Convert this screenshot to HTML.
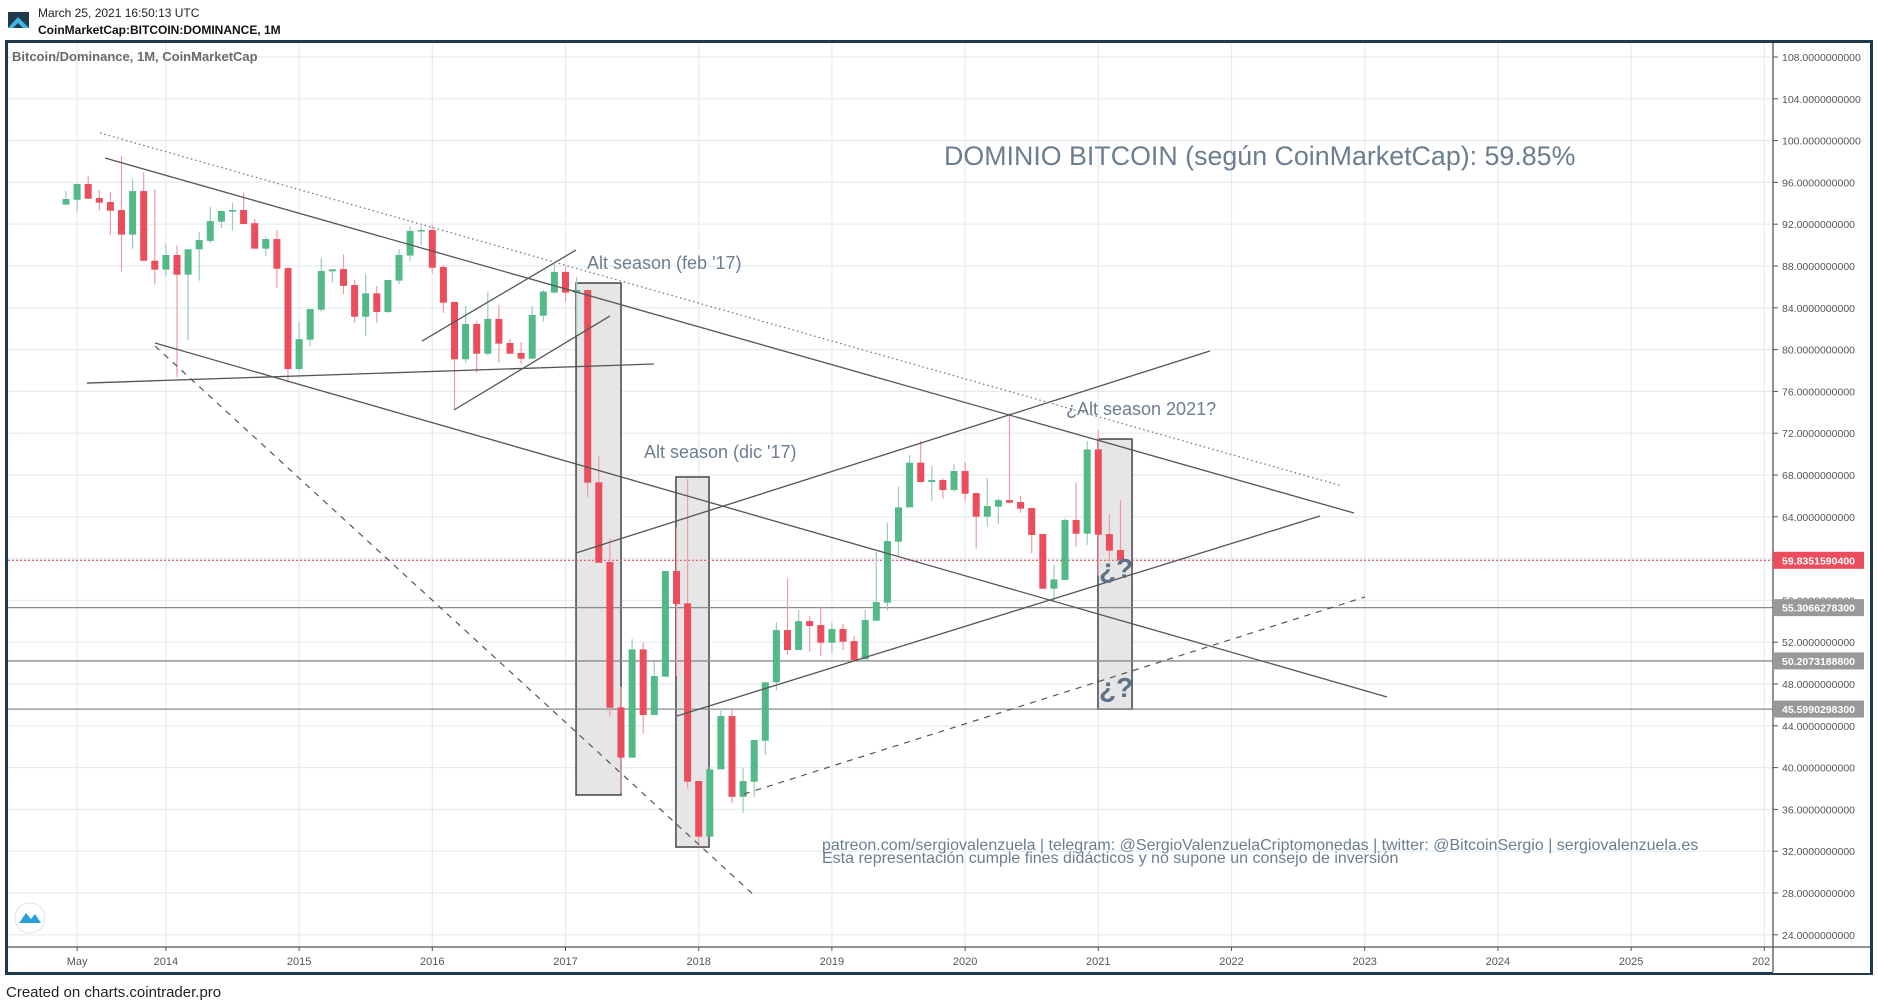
<!DOCTYPE html>
<html><head><meta charset="utf-8"><title>Bitcoin Dominance</title>
<style>
html,body{margin:0;padding:0;background:#fff;width:1878px;height:1006px;overflow:hidden;font-family:"Liberation Sans",sans-serif;}
</style></head>
<body>
<svg id="chart" width="1878" height="1006" viewBox="0 0 1878 1006" xmlns="http://www.w3.org/2000/svg" font-family="Liberation Sans, sans-serif">
  <g>
    <g>
      <rect x="8" y="12" width="21" height="16" fill="#1f3b4d"/>
      <polygon points="8,28 18,17 29,28 23,28 18,23 13,28" fill="#3fb4e5"/>
    </g>
    <text x="38" y="17" font-size="12" fill="#222">March 25, 2021 16:50:13 UTC</text>
    <text x="38" y="34" font-size="12" font-weight="bold" fill="#111">CoinMarketCap:BITCOIN:DOMINANCE, 1M</text>
  </g>
  <rect x="6.5" y="41.5" width="1865" height="932" fill="#fff" stroke="#1f3a4c" stroke-width="3"/>
  <g id="grid"></g>
  <g id="drawings-back"></g>
  <g id="candles"></g>
  <g id="drawings"></g>
  <g id="axes"></g>
  <text x="12" y="61" font-size="13" font-weight="bold" fill="#6a6a6a">Bitcoin/Dominance, 1M, CoinMarketCap</text>
  <text x="944" y="165" font-size="26.8" fill="#6b7e91">DOMINIO BITCOIN (según CoinMarketCap): 59.85%</text>
  <text x="587" y="269" font-size="18" fill="#6b7e91">Alt season (feb '17)</text>
  <text x="644" y="458" font-size="18" fill="#6b7e91">Alt season (dic '17)</text>
  <text x="1066" y="415" font-size="18" fill="#6b7e91">¿Alt season 2021?</text>
  <text x="1099" y="578" font-size="28" font-weight="bold" fill="#5f7285">¿?</text>
  <text x="1099" y="697" font-size="28" font-weight="bold" fill="#5f7285">¿?</text>
  <text x="822" y="850" font-size="16" fill="#6b7e91">patreon.com/sergiovalenzuela | telegram: @SergioValenzuelaCriptomonedas | twitter: @BitcoinSergio | sergiovalenzuela.es</text>
  <text x="822" y="863" font-size="16" fill="#6b7e91">Esta representación cumple fines didácticos y no supone un consejo de inversión</text>
  <g>
    <circle cx="30" cy="918" r="15" fill="#fff" stroke="#e0e3eb"/>
    <path d="M19 923 L26 913 L31 919 L35 914 L41 923 Z" fill="#2a9fd8"/>
  </g>
  <text x="6" y="997" font-size="15" fill="#222">Created on charts.cointrader.pro</text>
</svg>
<script>
// ---- data (monthly candles from Apr 2013) ----
const opens  = [93.87,94.34,95.84,94.5,94.12,93.35,91.0,95.17,88.5,87.65,89.05,87.17,89.6,90.4,92.24,93.2,93.36,92.1,89.66,90.58,87.8,78.14,80.95,83.82,87.49,87.71,86.18,83.15,85.38,83.6,86.6,89.0,91.35,91.44,87.9,84.56,79.07,82.45,79.61,82.93,80.63,79.68,79.13,83.25,85.45,87.43,85.45,85.7,67.3,59.67,45.76,40.95,51.31,45.03,48.7,58.81,55.72,38.72,33.39,39.83,44.93,37.21,38.65,42.57,48.16,53.16,51.25,54.02,53.64,51.95,53.26,52.1,50.36,54.06,55.78,61.62,64.9,69.18,67.33,67.52,66.56,68.38,66.27,64.01,64.97,65.6,65.41,64.84,62.35,57.12,57.95,63.69,62.38,70.45,62.35,60.82];
const highs  = [95.17,95.97,96.64,95.27,95.08,98.5,96.3,97.0,95.36,90.17,90.0,89.6,91.28,93.64,93.26,94.03,95.05,92.5,90.8,91.44,87.9,82.64,83.88,88.76,87.68,89.1,86.66,87.23,86.08,86.66,89.6,91.76,91.8,91.92,88.09,84.56,84.17,82.74,85.55,84.27,80.98,80.73,84.17,85.7,88.2,87.94,86.98,85.7,69.76,61.94,47.74,52.3,51.95,50.13,58.81,62.99,67.6,38.72,40.09,45.67,45.57,39.93,42.64,48.16,53.9,58.1,55.08,54.5,55.33,53.87,53.74,52.59,55.08,60.63,63.44,66.88,69.91,71.28,68.86,67.68,69.05,69.24,66.27,67.68,65.76,73.9,65.99,64.84,62.35,59.38,63.85,67.26,71.28,72.3,64.27,65.6];
const lows   = [93.87,93.2,94.44,93.29,91.0,87.45,89.66,88.5,86.27,86.97,77.4,80.9,86.6,90.2,91.63,91.38,92.02,89.66,88.95,85.89,76.83,78.0,80.34,83.63,86.4,85.3,82.57,81.3,82.57,83.5,86.27,88.5,89.97,87.3,83.53,74.22,78.75,77.79,79.42,78.75,79.61,78.62,79.13,82.67,85.45,84.56,81.4,65.86,59.6,44.87,37.53,40.95,43.28,45.03,48.7,48.76,38.0,32.43,33.39,39.83,36.58,35.68,37.2,41.2,47.36,50.77,51.25,51.09,50.68,50.93,51.25,50.2,50.36,54.06,55.01,60.18,64.9,67.26,65.54,65.73,66.4,65.54,60.95,63.05,63.31,65.3,64.39,60.5,57.12,55.97,57.95,61.14,61.3,58.33,59.86,59.84];
const closes = [94.41,95.84,94.44,94.06,93.29,91.0,95.17,88.5,87.65,89.05,87.17,89.6,90.48,92.3,93.26,93.36,92.02,89.66,90.58,87.74,78.14,81.0,83.88,87.52,87.68,86.1,83.15,85.38,83.6,86.66,89.05,91.35,91.44,87.84,84.49,79.07,82.45,79.61,82.93,80.57,79.61,79.13,83.31,85.55,87.43,85.45,85.7,67.27,59.6,45.73,40.95,51.31,45.03,48.76,58.81,55.65,38.65,33.39,39.83,44.93,37.21,38.72,42.64,48.16,53.16,51.25,54.02,53.55,51.95,53.26,52.05,50.3,54.12,55.84,61.68,64.9,69.18,67.33,67.52,66.56,68.38,66.21,64.01,65.03,65.6,65.35,64.78,62.26,57.12,58.01,63.69,62.38,70.45,62.29,60.76,59.84];
const yTicks = [108,104,100,96,92,88,84,80,76,72,68,64,60,56,52,48,44,40,36,32,28,24];
const xTickLabels = ["May","2014","2015","2016","2017","2018","2019","2020","2021","2022","2023","2024","2025","202"];
const xTickMonths = [1,9,21,33,45,57,69,81,93,105,117,129,141,153];
const lastPrice = 59.8351590400;
const levelValues = [55.3066278300,50.2073188800,45.5990298300];
const levelLabels = ["55.3066278300","50.2073188800","45.5990298300"];
// trendlines [month1, value1, month2, value2]
const trendSolid = [[3.51,98.33,116.04,64.36],[8.02,80.63,119.01,46.76],[1.89,76.8,52.97,78.62],[32.07,80.82,45.95,89.53],[34.95,74.22,49.01,83.22],[45.95,60.54,103.06,79.87],[55.05,44.94,112.97,64.08]];
const trendDashed = [[8.02,80.34,62.07,27.71],[61.08,37.47,117.03,56.33]];
const trendDotted = [[3.06,100.73,114.95,66.95]];
// highlighted boxes [month1, valueTop, month2, valueBottom]
const boxes = [[45.95,86.37,50.0,37.38],[54.95,67.81,57.93,32.4],[92.97,71.44,96.04,45.6]];

// ---- axes ----
const PL=8, PR=1773, PT=43, PB=947;
function xS(m){return 66+11.1*m;}
function yS(v){return 57+(108-v)*10.45;}
const NS="http://www.w3.org/2000/svg";
function mk(tag,attrs,parent){const e=document.createElementNS(NS,tag);for(const k in attrs)e.setAttribute(k,attrs[k]);parent.appendChild(e);return e;}
const grid=document.getElementById('grid'),back=document.getElementById('drawings-back'),cg=document.getElementById('candles'),dr=document.getElementById('drawings'),ax=document.getElementById('axes');

yTicks.forEach(v=>{const l=mk('line',{x1:PL,x2:PR,y1:yS(v),y2:yS(v),stroke:'#e4ecf2','stroke-width':1.2},grid);

});
xTickMonths.forEach(m=>{const l=mk('line',{x1:xS(m),x2:xS(m),y1:PT,y2:PB,stroke:'#e4ecf2','stroke-width':1.2},grid);

});

boxes.forEach(b=>{const r=mk('rect',{x:xS(b[0]),y:yS(b[1]),width:xS(b[2])-xS(b[0]),height:yS(b[3])-yS(b[1]),fill:'#e6e6e6',stroke:'#444','stroke-width':1.5},back);

});

levelValues.forEach(v=>{const l=mk('line',{x1:PL,x2:PR,y1:yS(v),y2:yS(v),stroke:'#8a8a8a','stroke-width':1.3},back);

});
{const l=mk('line',{x1:PL,x2:PR,y1:yS(lastPrice),y2:yS(lastPrice),stroke:'#eb4d5c','stroke-width':1.2,'stroke-dasharray':'2,2'},back);

}

for(let i=0;i<opens.length;i++){
  const up=closes[i]>=opens[i];
  const x=xS(i);
  const w=mk('line',{x1:x,x2:x,y1:yS(highs[i]),y2:yS(lows[i]),stroke:up?'#9ec9c5':'#f29aa3','stroke-width':1.2},cg);
  
  
  const top=yS(Math.max(opens[i],closes[i])),bot=yS(Math.min(opens[i],closes[i]));
  const r=mk('rect',{x:x-3.5,y:top,width:7,height:Math.max(1.5,bot-top),fill:up?'#53b987':'#eb4d5c'},cg);
  
  
}

function tl(arr,dash,w,col,name){arr.forEach(t=>{const a={x1:xS(t[0]),y1:yS(t[1]),x2:xS(t[2]),y2:yS(t[3]),stroke:col,'stroke-width':w};if(dash)a['stroke-dasharray']=dash;const l=mk('line',a,dr);

});}
tl(trendSolid,null,1.3,'#555','trendline');
tl(trendDashed,'6,6',1.2,'#555','trendline-dashed');
tl(trendDotted,'1.5,3',1.3,'#777','trendline-dotted');

// axis panel
{const r=mk('rect',{x:PR,y:PT,width:1870-PR,height:930,fill:'#fff'},ax);


const r2=mk('rect',{x:PL,y:PB,width:PR-PL,height:25,fill:'#fff'},ax);

}
{const l=mk('line',{x1:PR,x2:PR,y1:PT,y2:972,stroke:'#555','stroke-width':1.3},ax);


const l2=mk('line',{x1:PL,x2:1870,y1:PB,y2:PB,stroke:'#555','stroke-width':1.3},ax);

}
yTicks.forEach(v=>{const t=mk('line',{x1:PR,x2:PR+5,y1:yS(v),y2:yS(v),stroke:'#555'},ax);


const tx=mk('text',{x:PR+9,y:yS(v)+4,'font-size':10.5,fill:'#555'},ax);
tx.textContent=v.toFixed(10);

});
xTickMonths.forEach((m,k)=>{const t=mk('line',{x1:xS(m),x2:xS(m),y1:PB,y2:PB+4,stroke:'#555'},ax);


const tx=mk('text',{x:xS(m),y:PB+18,'font-size':11,fill:'#555','text-anchor':k===13?'end':'middle'},ax);
if(k===13)tx.setAttribute('x',xS(m)+6);
tx.textContent=xTickLabels[k];

});
function badge(v,label,col,name){const y=yS(v);const r=mk('rect',{x:PR,y:y-8.5,width:91,height:17,fill:col},ax);


const tx=mk('text',{x:PR+9,y:y+4,'font-size':10.5,'font-weight':'bold',fill:'#fff'},ax);
tx.textContent=label;

}
badge(lastPrice,lastPrice.toFixed(10),'#eb4d5c','last-price-badge');
levelValues.forEach((v,k)=>badge(v,levelLabels[k],'#999','level-badge'));
</script>
</body></html>
